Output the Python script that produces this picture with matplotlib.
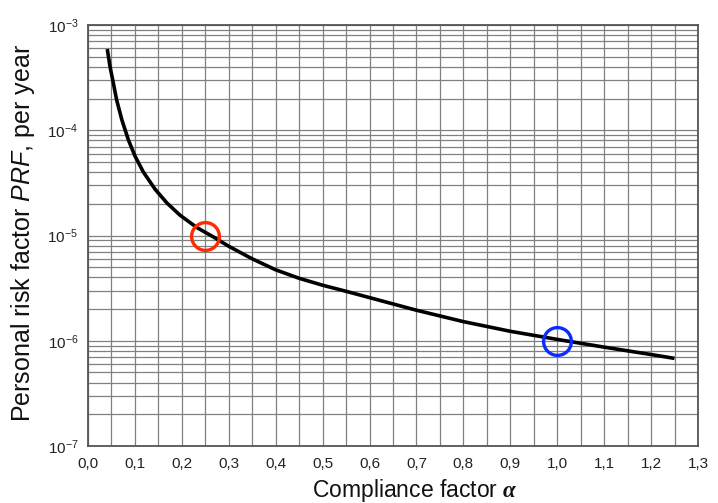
import numpy as np
import matplotlib
matplotlib.use("Agg")
import matplotlib.pyplot as plt
from matplotlib.ticker import MultipleLocator, FuncFormatter, LogLocator, NullFormatter

plt.rcParams["font.family"] = ["Liberation Sans", "DejaVu Sans"]
plt.rcParams["mathtext.fontset"] = "custom"
plt.rcParams["mathtext.rm"] = "Liberation Sans"
plt.rcParams["mathtext.it"] = "Liberation Sans:italic"
plt.rcParams["mathtext.bf"] = "Liberation Sans:bold"
plt.rcParams["mathtext.bfit"] = "Liberation Serif:italic:bold"

# Personal risk factor versus compliance factor
alpha = [0.041, 0.047, 0.054, 0.061, 0.072, 0.086, 0.100, 0.118, 0.143, 0.168,
         0.196, 0.232, 0.267, 0.30, 0.35, 0.40, 0.45, 0.50, 0.55, 0.60,
         0.70, 0.80, 0.90, 1.00, 1.10, 1.20, 1.25]
prf = [5.9e-4, 4.0e-4, 2.8e-4, 1.94e-4, 1.26e-4, 8.1e-5, 5.7e-5, 4.0e-5, 2.75e-5, 2.04e-5,
       1.56e-5, 1.19e-5, 9.7e-6, 7.9e-6, 6.0e-6, 4.72e-6, 3.92e-6, 3.37e-6, 2.95e-6, 2.57e-6,
       1.95e-6, 1.52e-6, 1.23e-6, 1.03e-6, 8.7e-7, 7.4e-7, 6.8e-7]

# Highlighted operating points
mark_alpha = [0.25, 1.0]
mark_prf = [1e-5, 1e-6]
mark_colors = ["#ff2a00", "#0a2cff"]

x_ticks = [0.0, 0.1, 0.2, 0.3, 0.4, 0.5, 0.6, 0.7, 0.8, 0.9, 1.0, 1.1, 1.2, 1.3]

fig = plt.figure(figsize=(7.18, 5.03), dpi=100)
ax = fig.add_axes([0.1226, 0.1133, 0.8495, 0.8370])

ax.set_yscale("log")
ax.set_xlim(0, 1.3)
ax.set_ylim(1e-7, 1e-3)

ax.xaxis.set_minor_locator(MultipleLocator(0.05))
ax.set_xticks(x_ticks)
ax.xaxis.set_major_formatter(FuncFormatter(lambda v, p: f"{v:.1f}".replace(".", ",")))
ax.yaxis.set_major_locator(LogLocator(base=10, numticks=10))
ax.yaxis.set_minor_locator(LogLocator(base=10, subs=np.arange(2, 10), numticks=20))
ax.yaxis.set_minor_formatter(NullFormatter())

ax.grid(True, which="both", color="#808080", linewidth=0.9)
ax.set_axisbelow(True)
ax.tick_params(which="both", length=0, labelsize=11, colors="#222222")
ax.tick_params(axis="x", pad=8)
ax.tick_params(axis="y", pad=7)

for s in ax.spines.values():
    s.set_color("#555555")
    s.set_linewidth(1.3)

ax.plot(alpha, prf, color="black", linewidth=2.6, solid_capstyle="butt",
        solid_joinstyle="round", zorder=3)

for xa, ya, c in zip(mark_alpha, mark_prf, mark_colors):
    ax.plot(xa, ya, marker="o", markersize=20, markerfacecolor="none",
            markeredgecolor=c, markeredgewidth=2.4, linestyle="none", zorder=4)

fig.text(415 / 718, 6 / 503, r"Compliance factor $\boldsymbol{\alpha}$",
         fontsize=16.5, ha="center", va="baseline", color="#111111")
fig.text(23 / 718, 1 - 233 / 503, r"Personal risk factor $\mathit{PRF}$, per year",
         fontsize=18, ha="center", va="center", rotation=90, color="#111111")

fig.savefig("out.png", dpi=100)
